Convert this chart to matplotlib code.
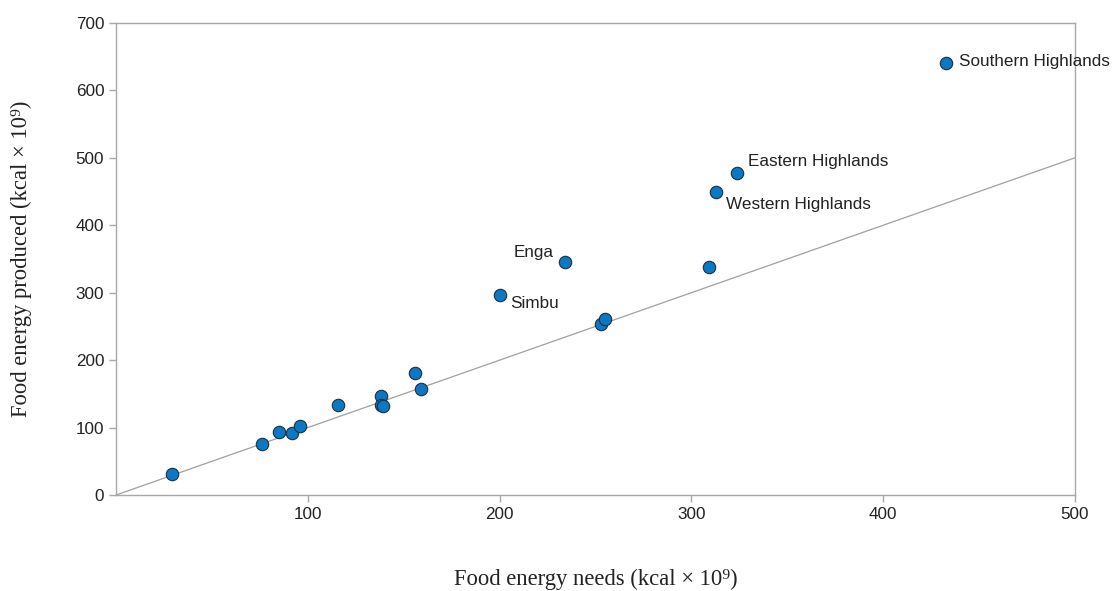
import matplotlib
matplotlib.use("Agg")
import matplotlib.pyplot as plt

# Data (kcal x 10^9)
needs = [29, 76, 85, 92, 96, 116, 138, 138, 139, 156, 159, 200, 234, 253, 255, 309, 313, 324, 433]
produced = [31, 76, 94, 92, 103, 133, 147, 133, 132, 181, 157, 297, 346, 254, 261, 338, 450, 478, 641]
names = ["", "", "", "", "", "", "", "", "", "", "", "Simbu", "Enga", "", "", "",
         "Western Highlands", "Eastern Highlands", "Southern Highlands"]
xticks = [100, 200, 300, 400, 500]
yticks = [0, 100, 200, 300, 400, 500, 600, 700]

# label offsets in points, alignment
label_style = {
    "Southern Highlands": ((9, 1), "left"),
    "Eastern Highlands": ((8, 8), "left"),
    "Western Highlands": ((7, -9), "left"),
    "Enga": ((-8, 7), "right"),
    "Simbu": ((8, -6), "left"),
}

fig = plt.figure(figsize=(11.16, 5.91), dpi=100)
ax = fig.add_axes([0.104, 0.1624, 0.859, 0.7986])

ax.plot([0, 500], [0, 500], color="#a0a0a0", lw=0.9, zorder=1)
ax.scatter(needs, produced, s=80, color="#0a78c2", edgecolor="#1f2f3f", linewidth=0.8, zorder=3)

for x, y, n in zip(needs, produced, names):
    if n:
        off, ha = label_style[n]
        ax.annotate(n, (x, y), xytext=off, textcoords="offset points", ha=ha, va="center",
                    fontsize=12.3, family="Liberation Sans", color="#222222")

ax.set_xlim(0, 500)
ax.set_ylim(0, 700)
ax.set_xticks(xticks)
ax.set_yticks(yticks)
for s in ax.spines.values():
    s.set_color("#a8a8a8")
    s.set_linewidth(1.0)
ax.tick_params(axis="both", colors="#a8a8a8", length=5, width=1.0, labelcolor="#222222",
               labelsize=12.3)
for lab in ax.get_xticklabels() + ax.get_yticklabels():
    lab.set_family("Liberation Sans")

serif = ["Liberation Serif", "DejaVu Serif"]
ax.set_xlabel("Food energy needs (kcal \u00d7 10\u2079)", family=serif, fontsize=16.3,
              color="#222222")
ax.set_ylabel("Food energy produced (kcal \u00d7 10\u2079)", family=serif, fontsize=16.3,
              color="#222222")
ax.xaxis.set_label_coords(0.5, -0.156)
ax.yaxis.set_label_coords(-0.088, 0.5)

fig.savefig("out.png", dpi=100)
